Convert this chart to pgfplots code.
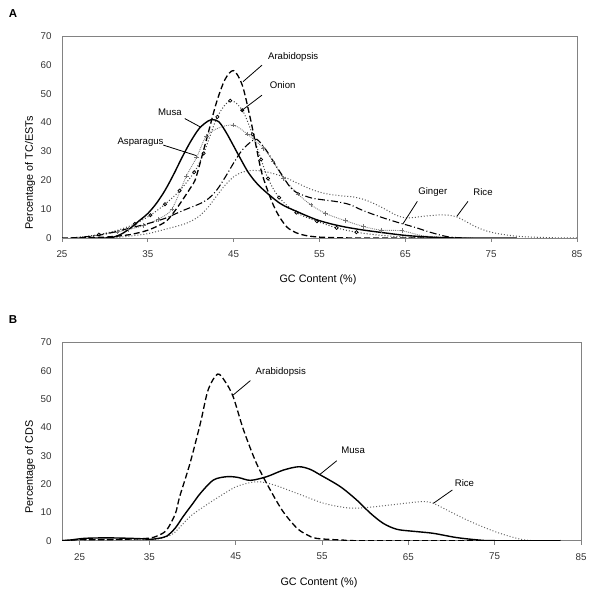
\documentclass[border=0pt]{standalone}
\usepackage{pgfplots}
\pgfplotsset{compat=1.18}
\usepackage{fontspec}
\setmainfont{Liberation Sans}
\definecolor{framegray}{RGB}{130,130,130}
\tikzset{
  ann/.style={font=\fontsize{9.6}{11}\selectfont},
  lead/.style={black, line width=0.8pt},
}
\pgfplotsset{
  panel/.style={
    scale only axis, anchor=south west,
    ymin=0, ymax=70, ytick={0,10,...,70},
    axis line style={draw=framegray, line width=0.7pt},
    tick label style={font=\fontsize{9.8}{11}\selectfont, text=black!80},
    /pgf/number format/assume math mode=true,
    tick align=outside, major tick length=4pt,
    xtick pos=bottom, ytick style={draw=none},
    xtick style={draw=framegray, line width=0.7pt},
    yticklabel style={xshift=-3pt},
    xticklabel style={yshift=-5pt},
  },
}
\begin{document}
\begin{tikzpicture}
\useasboundingbox (0pt,0pt) rectangle (600pt,600pt);
% ---------------- Panel A ----------------
\begin{axis}[panel, at={(62pt,362pt)}, width=515pt, height=202pt,
  xmin=25, xmax=85, xtick={25,35,...,85}]
% Rice
\addplot[black!65, dotted, line width=1.0pt, smooth] table {
31 0
33 0.7
35 1.5
37 3
39 4.6
40 5.8
41 7.6
42 10.6
43 14.5
44 18.3
45 21.2
46 22.8
47 23.4
48 23.3
49 22.8
50 22
51 21
52 19.6
53 18.2
54 16.9
55 15.9
56 15.2
57 14.8
58 14.5
59 14.2
60 13.5
61 12.4
62 11
63 9.4
64 7.8
65 7
66 7.1
67 7.5
68 7.8
69 8
70 7.9
71 7.3
72 5.8
73 4.2
74 2.9
75 2
76 1.4
78 0.6
80 0.3
82 0.1
85 0
};
% Asparagus line
\addplot[black!50, densely dotted, line width=0.9pt, smooth] table {
26 0
28 0.5
29.5 1.2
31.4 2.1
32.7 2.9
34.5 4.3
36.2 6.5
37.8 10
39.5 21.5
40.7 28
41.8 35.3
43.3 38.2
45 39.1
46.6 36
48.5 31
49.6 26.4
50.8 20.7
52.5 15.2
54 11.5
55.7 8.5
58 6
60.1 4
62.2 2.7
64.6 2.5
67 0.8
70 0.2
73 0
};
\addplot[black!55, only marks, mark=+, mark size=2.3pt, mark options={line width=0.7pt}] table {
31.4 2.1
32.7 2.9
34.5 4.3
36.2 6.5
37.8 10
39.5 21.5
40.7 28
41.8 35.3
45 39.1
46.6 36
48.5 31
49.6 26.4
50.8 20.7
52.5 15.2
54 11.5
55.7 8.5
58 6
60.1 4
62.2 2.7
64.6 2.5
};
% Onion line
\addplot[black!75, dotted, line width=1.0pt, smooth] table {
27 0.2
29.3 1.2
31.5 2.7
33.5 4.9
35.3 7.9
37.0 11.7
38.7 16.4
40.4 22.8
41.5 29.3
43.1 42
44.6 47.6
46.0 44.3
47.2 35.9
48.2 27.2
49.0 20.6
50.3 14
52.3 8.8
54.7 5.8
57.0 3.5
59.3 2.0
61.6 1.1
64 0.5
67 0.1
70 0
};
\addplot[black, only marks, mark=o, mark size=1.6pt, mark options={line width=0.7pt}] table {
29.3 1.2
33.5 4.9
35.3 7.9
37.0 11.7
38.7 16.4
40.4 22.8
41.5 29.3
43.1 42
44.6 47.6
46.0 44.3
47.2 35.9
48.2 27.2
49.0 20.6
50.3 14
52.3 8.8
54.7 5.8
57.0 3.5
59.3 2.0
};
% Ginger
\addplot[black, line width=1.1pt, dash pattern=on 7pt off 2.5pt on 1pt off 2.5pt, smooth] table {
26 0
29 0.8
31 2
33 3.5
35 5
37 6.8
39 9.4
41 11.8
42 13.5
43 16.5
44 21
45 26
46 30.5
47 33.3
47.7 34.2
48.8 30.4
50.4 22.9
51.9 16.6
53.9 14
55.5 13.2
57 12.6
58.5 11.6
60 9.6
62 7.4
64 5.5
66 3.8
68 1.9
70 0.4
72 0
};
% Musa
\addplot[black, line width=1.4pt, smooth] table {
28 0
30 0
31 0.3
32 1.5
33 3.5
34 6
35 8.5
36 12
37 16.5
38 22
39 28
40 33.5
41 38
42 40.5
42.6 41
43.3 40.2
44.2 36.2
45.7 28
46.8 22.3
48.1 17.7
50.4 12
52.5 9
54.5 6.5
56.2 5
58 3.8
60 2.8
62 2
65 0.9
68 0.3
71 0
78 0
};
% Arabidopsis
\addplot[black, line width=1.3pt, dash pattern=on 6pt off 3pt, smooth] table {
25 0
28 0.1
30 0.3
32 0.8
33 1.2
35 2.7
37 5.5
38 8.8
39 13
40 17.5
40.5 20
41 25
42 36
43 47
44 55
45 58
46 53
46.9 42
47.6 32
48.3 22.3
49.4 13
50.2 8
51.2 3.8
52.3 1.8
53.5 0.8
55 0.3
57 0.1
60 0
70 0
};
% annotations
\draw[lead] (axis cs:48.3,59.9) -- (axis cs:46.1,54.2);
\node[ann, anchor=west] at (axis cs:48.6,62.7) {Arabidopsis};
\draw[lead] (axis cs:48.3,49.5) -- (axis cs:45.9,44.1);
\node[ann, anchor=west] at (axis cs:48.8,53.0) {Onion};
\draw[lead] (axis cs:39.3,41.4) -- (axis cs:41.1,38.5);
\node[ann] at (axis cs:37.58,43.6) {Musa};
\draw[lead] (axis cs:36.8,32.2) -- (axis cs:40.7,28.5);
\node[ann] at (axis cs:34.15,33.3) {Asparagus};
\draw[lead] (axis cs:66.4,12.7) -- (axis cs:64.7,4.8);
\node[ann] at (axis cs:68.2,16.0) {Ginger};
\draw[lead] (axis cs:72.3,12.7) -- (axis cs:71.0,7.5);
\node[ann] at (axis cs:74.05,16.0) {Rice};
\end{axis}
% ---------------- Panel B ----------------
\begin{axis}[panel, at={(62pt,59.3pt)}, width=519pt, height=198.4pt,
  xmin=24.87, xmax=85, xtick={26.9,35,45,55,65,75,85},
  xticklabels={25,35,45,55,65,75,85}]
% Rice
\addplot[black!60, dotted, line width=1.0pt, smooth] table {
24.87 0
27 0.3
29 0.5
31 0.4
33 0.4
35.1 0.3
36.5 1
37.8 2.6
39.7 8.5
41.3 12
42.8 15
45.1 19.1
47.4 20.8
49.4 19.7
52.1 16.7
55.2 13.2
57.9 11.6
59.8 11.6
62.9 12.6
65.5 13.5
66.8 13.8
67.9 13.2
69.8 10.3
71.8 7.3
73.7 4.8
75.6 2.6
78 0.5
79.5 0
};
% Musa
\addplot[black, line width=1.4pt, smooth] table {
24.87 0
26 0.3
27 0.7
28 0.9
30 1.0
32 0.9
34 0.7
35.1 0.5
36 0.8
37 1.6
38 4.5
38.9 8.5
40 13
40.9 16.7
42.4 21.4
44 22.6
45.3 22.3
46.7 21.3
48.6 22.6
50.5 24.9
52.3 26.1
53.6 25.2
54.8 23.2
57.1 19.1
59 14.4
60.6 9.7
62.1 6.1
63.7 4
66 3.2
67.9 2.6
70.6 1.1
73.3 0.2
75 0
82.6 0
};
% Arabidopsis
\addplot[black, line width=1.3pt, dash pattern=on 6pt off 3pt, smooth] table {
24.87 0
26 0.2
27 0.4
29 0.3
31 0.4
33 0.6
35 0.9
36 1.8
37 3.8
38 9.5
38.5 15.5
39.7 27.3
40.9 41.4
41.8 53.2
42.9 58.8
43.8 56
44.7 50.8
45.9 39.1
47.4 27.3
49 17.9
50.5 10.2
52.1 4.4
53.3 2
54.4 0.8
57.5 0.2
60 0
82.6 0
};
\draw[lead] (axis cs:46.7,56.5) -- (axis cs:44.7,51.4);
\node[ann, anchor=west] at (axis cs:46.9,59.6) {Arabidopsis};
\draw[lead] (axis cs:56.7,28.2) -- (axis cs:54.8,23.5);
\node[ann] at (axis cs:58.6,32.0) {Musa};
\draw[lead] (axis cs:70.1,17.9) -- (axis cs:67.9,13.2);
\node[ann] at (axis cs:71.5,20.5) {Rice};
\end{axis}
% labels
\node[font=\fontsize{10.8}{12}\selectfont] at (318pt,320pt) {GC Content (\%)};
\node[font=\fontsize{10.8}{12}\selectfont] at (319pt,17pt) {GC Content (\%)};
\node[font=\fontsize{10.8}{12}\selectfont, rotate=90] at (30pt,427pt) {Percentage of TC/ESTs};
\node[font=\fontsize{10.8}{12}\selectfont, rotate=90] at (30pt,133pt) {Percentage of CDS};
\node[font=\bfseries\fontsize{11.5}{13}\selectfont] at (13pt,586pt) {A};
\node[font=\bfseries\fontsize{11.5}{13}\selectfont] at (13pt,280pt) {B};
\end{tikzpicture}
\end{document}
